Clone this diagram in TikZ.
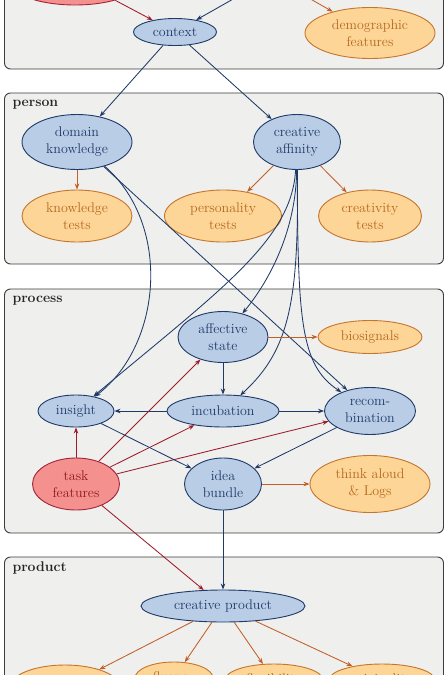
\documentclass[tikz,border=0pt]{standalone}
\usetikzlibrary{arrows.meta,shapes.geometric}
\definecolor{bfill}{HTML}{B9CDE6}
\definecolor{bdraw}{HTML}{1F3A68}
\definecolor{btext}{HTML}{1F3A68}
\definecolor{ofill}{HTML}{FDD597}
\definecolor{odraw}{HTML}{C5752C}
\definecolor{otext}{HTML}{B5691F}
\definecolor{rfill}{HTML}{F4908E}
\definecolor{rdraw}{HTML}{A3243A}
\definecolor{rtext}{HTML}{8E1B1B}
\definecolor{boxfill}{HTML}{EFEFED}
\definecolor{boxdraw}{HTML}{3C3C3C}
\definecolor{oedge}{HTML}{C25E28}
\definecolor{redge}{HTML}{9E1B2B}
\begin{document}
\begin{tikzpicture}[x=1pt,y=1pt,
 every node/.style={font=\fontsize{14}{17}\selectfont, align=center},
 ell/.style={ellipse, inner sep=0pt, line width=0.9pt},
 latent/.style={ell, fill=bfill, draw=bdraw, text=btext},
 meas/.style={ell, fill=ofill, draw=odraw, text=otext},
 taskn/.style={ell, fill=rfill, draw=rdraw, text=rtext},
 grp/.style={rounded corners=6pt, fill=boxfill, draw=boxdraw, line width=0.9pt},
 grplabel/.style={anchor=base west, font=\fontsize{14}{17}\selectfont\bfseries, text=black!85},
 barrow/.style={color=bdraw, line width=0.85pt, -{Stealth[length=6pt,width=4.5pt]}},
 oarrow/.style={barrow, color=oedge},
 rarrow/.style={barrow, color=redge},
 sz/.style 2 args={minimum width=#1pt, minimum height=#2pt}
]
\useasboundingbox (0,0) rectangle (447,-675);
% group boxes
\path[grp] (4.5,40) rectangle (443.5,-69);
\path[grp] (4.5,-93) rectangle (443.5,-264);
\path[grp] (4.5,-289) rectangle (443.5,-533);
\path[grp] (4.5,-557) rectangle (443.5,-720);
\node[grplabel] (lperson) at (9,-106) {person};
\node[grplabel] (lprocess) at (9,-302) {process};
\node[grplabel] (lproduct) at (9,-571) {product};
% context
\node[taskn, sz={136}{52}] (env) at (75,21) {};
\node[ell, fill=white, sz={82}{44}] (top) at (272,23) {};
\node[latent, sz={83}{27}] (context) at (175,-32) {context};
\node[meas, sz={130}{51}] (demo) at (370,-33) {demographic\\features};
% person
\node[latent, sz={110}{55}] (dk) at (77,-142) {domain\\knowledge};
\node[latent, sz={87}{55}] (ca) at (297,-142) {creative\\affinity};
\node[meas, sz={110}{52}] (kt) at (77,-216) {knowledge\\tests};
\node[meas, sz={117}{52}] (pt) at (223,-216) {personality\\tests};
\node[meas, sz={103}{52}] (ct) at (370,-216) {creativity\\tests};
% process
\node[latent, sz={90}{51}] (aff) at (223,-337) {affective\\state};
\node[meas, sz={104}{33}] (bio) at (370,-337) {biosignals};
\node[latent, sz={76}{32}] (insight) at (76,-411) {insight};
\node[latent, sz={112}{32}] (incub) at (223,-411) {incubation};
\node[latent, sz={91}{47}] (recomb) at (370,-411) {recom-\\bination};
\node[taskn, sz={87}{52}] (tf) at (76,-484) {task\\features};
\node[latent, sz={77}{52}] (idea) at (223,-484) {idea\\bundle};
\node[meas, sz={120}{57}] (think) at (370,-484) {think aloud\\\& Logs};
% product
\node[latent, sz={164}{32}] (cp) at (223,-606) {creative product};
\node[meas, sz={110}{44}] (elab) at (65,-687) {elaboration};
\node[meas, sz={78}{32}] (flu) at (174,-678) {fluency};
\node[meas, sz={98}{32}] (flex) at (274,-680) {flexibility};
\node[meas, sz={106}{32}] (orig) at (382,-680) {originality};
% edges: context
\draw[rarrow] (env) -- (context);
\draw[barrow] (top) -- (context);
\draw[oarrow] (top) -- (demo);
\draw[barrow] (context) -- (dk);
\draw[barrow] (context) -- (ca);
% person
\draw[oarrow] (dk) -- (kt);
\draw[oarrow] (ca) -- (pt);
\draw[oarrow] (ca) -- (ct);
\draw[barrow] (dk) .. controls (172,-225) and (162,-345) .. (insight);
\draw[barrow] (dk) -- (recomb);
\draw[barrow] (ca) .. controls (292,-240) and (220,-290) .. (insight);
\draw[barrow] (ca) .. controls (296,-230) and (270,-280) .. (aff);
\draw[barrow] (ca) .. controls (299,-300) and (290,-350) .. (incub);
\draw[barrow] (ca) .. controls (298,-320) and (300,-365) .. (recomb);
% process
\draw[oarrow] (aff) -- (bio);
\draw[barrow] (aff) -- (incub);
\draw[barrow] (incub) -- (insight);
\draw[barrow] (incub) -- (recomb);
\draw[rarrow] (tf) -- (insight);
\draw[rarrow] (tf) -- (aff);
\draw[rarrow] (tf) -- (incub);
\draw[rarrow] (tf) -- (recomb);
\draw[barrow] (insight) -- (idea);
\draw[barrow] (recomb) -- (idea);
\draw[oarrow] (idea) -- (think);
\draw[barrow] (idea) -- (cp);
\draw[rarrow] (tf) -- (cp);
% product
\draw[oarrow] (cp) -- (elab);
\draw[oarrow] (cp) -- (flu);
\draw[oarrow] (cp) -- (flex);
\draw[oarrow] (cp) -- (orig);
\end{tikzpicture}
\end{document}
